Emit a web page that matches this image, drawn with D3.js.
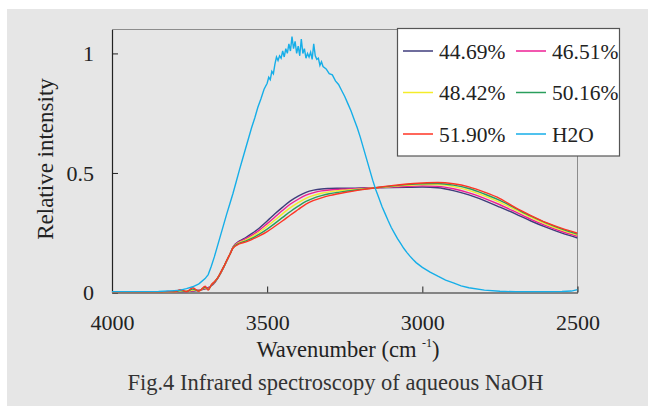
<!DOCTYPE html>
<html>
<head>
<meta charset="utf-8">
<script src="https://cdn.jsdelivr.net/npm/d3@7"></script>
<style>
  body { margin: 0; background: #fff; }
  svg { display: block; }
</style>
</head>
<body>
<script>
// wavenumber grid shared by the NaOH spectra (cm-1)
const wnNaOH = [4000, 3850, 3820, 3800, 3780, 3760, 3740, 3720, 3700, 3690, 3680, 3670, 3660, 3650, 3640, 3630, 3620, 3610,
  3590, 3570, 3550, 3525, 3500, 3475, 3450, 3425, 3400, 3375, 3350, 3325, 3300, 3275, 3250, 3200, 3150, 3100, 3050, 3000,
  2950, 2900, 2850, 2800, 2750, 2700, 2650, 2600, 2550, 2500];

const naoh4469 = [0, 0, 0.001, 0.002, 0.003, 0.004, 0.006, 0.009, 0.015, 0.02, 0.028, 0.04, 0.058, 0.08, 0.105, 0.132, 0.16, 0.19,
  0.215, 0.229, 0.246, 0.27, 0.299, 0.329, 0.357, 0.383, 0.403, 0.419, 0.428, 0.433, 0.435, 0.436, 0.436, 0.437, 0.438, 0.439, 0.44, 0.441,
  0.438, 0.426, 0.408, 0.384, 0.357, 0.329, 0.299, 0.272, 0.248, 0.228];
const naoh4651 = [0, 0, 0.001, 0.002, 0.004, 0.004, 0.007, 0.01, 0.017, 0.018, 0.03, 0.042, 0.06, 0.082, 0.107, 0.134, 0.162, 0.19,
  0.212, 0.224, 0.239, 0.261, 0.288, 0.316, 0.344, 0.37, 0.39, 0.407, 0.418, 0.425, 0.429, 0.431, 0.432, 0.435, 0.438, 0.441, 0.444, 0.446,
  0.444, 0.434, 0.417, 0.394, 0.367, 0.337, 0.306, 0.279, 0.255, 0.235];
const naoh4842 = [0, 0, 0.002, 0.001, 0.006, 0.005, 0.01, 0.008, 0.02, 0.014, 0.03, 0.043, 0.06, 0.082, 0.107, 0.134, 0.161, 0.188,
  0.209, 0.219, 0.233, 0.253, 0.277, 0.303, 0.33, 0.355, 0.376, 0.394, 0.406, 0.415, 0.421, 0.425, 0.428, 0.433, 0.438, 0.443, 0.448, 0.451,
  0.451, 0.443, 0.427, 0.404, 0.377, 0.346, 0.314, 0.285, 0.261, 0.24];
const naoh5016 = [0, 0, 0.003, 0.002, 0.008, 0.004, 0.014, 0.007, 0.022, 0.012, 0.031, 0.044, 0.06, 0.083, 0.108, 0.135, 0.16, 0.187,
  0.206, 0.215, 0.226, 0.244, 0.265, 0.289, 0.314, 0.339, 0.361, 0.381, 0.395, 0.405, 0.413, 0.418, 0.423, 0.431, 0.438, 0.445, 0.451, 0.455,
  0.456, 0.449, 0.435, 0.412, 0.385, 0.352, 0.319, 0.29, 0.265, 0.244];
const naoh5190 = [0, 0, 0.004, 0.001, 0.012, 0.003, 0.02, 0.005, 0.026, 0.01, 0.032, 0.045, 0.06, 0.083, 0.108, 0.135, 0.16, 0.186,
  0.203, 0.211, 0.221, 0.237, 0.255, 0.277, 0.3, 0.324, 0.347, 0.37, 0.385, 0.396, 0.405, 0.412, 0.418, 0.429, 0.438, 0.447, 0.454, 0.458,
  0.46, 0.455, 0.442, 0.42, 0.393, 0.355, 0.322, 0.292, 0.268, 0.248];

// pure water spectrum, own grid (noisy around the peak)
const wnWater = [4000, 3850, 3800, 3780, 3760, 3740, 3720, 3700, 3690, 3680, 3670, 3660, 3650, 3640, 3630, 3620, 3610, 3600,
  3590, 3580, 3570, 3560, 3550, 3540, 3530, 3520, 3510, 3500, 3495, 3490, 3485, 3480, 3475, 3470, 3465, 3460, 3455, 3450,
  3445, 3440, 3435, 3430, 3425, 3420, 3415, 3410, 3405, 3400, 3395, 3390, 3385, 3380, 3375, 3370, 3365, 3360, 3355, 3350,
  3345, 3340, 3335, 3330, 3325, 3320, 3310, 3300, 3290, 3280, 3270, 3260, 3250, 3240, 3230, 3220, 3210, 3200, 3190, 3180,
  3170, 3160, 3150, 3140, 3130, 3120, 3110, 3100, 3090, 3080, 3070, 3060, 3050, 3040, 3030, 3020, 3000, 2975, 2950, 2925,
  2900, 2875, 2850, 2800, 2750, 2700, 2650, 2600, 2550, 2520, 2500];
const water = [0.003, 0.004, 0.008, 0.01, 0.016, 0.024, 0.036, 0.058, 0.075, 0.11, 0.15, 0.195, 0.24, 0.285, 0.33, 0.372, 0.415, 0.462,
  0.51, 0.555, 0.6, 0.645, 0.69, 0.73, 0.775, 0.81, 0.85, 0.875, 0.9, 0.89, 0.925, 0.915, 0.955, 0.985, 0.97, 0.99, 0.98, 1.01,
  0.985, 1.02, 1.0, 1.04, 1.01, 1.07, 1.02, 1.05, 1.0, 1.03, 0.99, 1.06, 1.0, 1.02, 0.98, 1.0, 0.985, 1.005, 0.975, 1.04,
  0.99, 0.975, 0.98, 0.95, 0.965, 0.945, 0.935, 0.915, 0.91, 0.885, 0.87, 0.845, 0.82, 0.79, 0.76, 0.725, 0.69, 0.65, 0.605, 0.56,
  0.515, 0.47, 0.43, 0.395, 0.36, 0.33, 0.3, 0.272, 0.248, 0.225, 0.205, 0.185, 0.168, 0.152, 0.138, 0.125, 0.105, 0.085, 0.068, 0.052,
  0.04, 0.028, 0.02, 0.01, 0.005, 0.003, 0.003, 0.003, 0.004, 0.006, 0.012];

const seriesNames = ["44.69%", "46.51%", "48.42%", "50.16%", "51.90%", "H2O"];
const seriesColors = ["#3f3d7c", "#ee1f95", "#f4ec2a", "#2a9e5c", "#ff3424", "#16aee8"];
const xTicks = [4000, 3500, 3000, 2500];
const yTicks = [0, 0.5, 1];
const yTickLabels = ["0", "0.5", "1"];

const serif = '"Liberation Serif", "Times New Roman", serif';
const width = 648;
const height = 406;
const plot = { left: 112, right: 577.5, top: 29.5, bottom: 292.5 };

const svg = d3.select("body").append("svg")
  .attr("width", width).attr("height", height)
  .attr("font-family", serif);

// grey panel behind everything (white strip on top and left)
svg.append("rect").attr("x", 7).attr("y", 9).attr("width", width - 7).attr("height", height - 9).attr("fill", "#e6e6e6");

const x = d3.scaleLinear().domain([4000, 2500]).range([plot.left, plot.right]);
const y = d3.scaleLinear().domain([0, 1.1]).range([plot.bottom, plot.top]);

svg.append("clipPath").attr("id", "clip")
  .append("rect").attr("x", plot.left).attr("y", plot.top - 2)
  .attr("width", plot.right - plot.left).attr("height", plot.bottom - plot.top + 2);

// frame: light top / right edges
svg.append("path")
  .attr("d", `M${plot.left},${plot.top}H${plot.right}V${plot.bottom}`)
  .attr("fill", "none").attr("stroke", "#8c8c8c").attr("stroke-width", 1);

// axes with inward ticks
const xAxis = svg.append("g").attr("transform", `translate(0,${plot.bottom})`)
  .call(d3.axisBottom(x).tickValues(xTicks).tickSize(-6).tickSizeOuter(0).tickPadding(0).tickFormat(d3.format("d")));
const yAxis = svg.append("g").attr("transform", `translate(${plot.left},0)`)
  .call(d3.axisLeft(y).tickValues(yTicks).tickSize(-6).tickSizeOuter(0).tickFormat((d, i) => yTickLabels[i]));

[xAxis, yAxis].forEach((g) => {
  g.attr("font-family", serif).attr("font-size", 22);
  g.select(".domain").attr("stroke", "#222").attr("stroke-width", 1.2);
  g.selectAll(".tick line").attr("stroke", "#222");
  g.selectAll("text").attr("fill", "#222");
});
xAxis.selectAll("text").attr("dy", null).attr("y", 37.5);
yAxis.selectAll("text").attr("x", -18).attr("dy", "0.34em");

// spectra
const naohSeries = [naoh4469, naoh4651, naoh4842, naoh5016, naoh5190];
const lines = svg.append("g").attr("clip-path", "url(#clip)");

naohSeries.forEach((vals, i) => {
  const pts = wnNaOH.map((w, j) => [w, vals[j]]);
  lines.append("path")
    .datum(pts)
    .attr("fill", "none")
    .attr("stroke", seriesColors[i])
    .attr("stroke-width", 1.4)
    .attr("d", d3.line().x((d) => x(d[0])).y((d) => y(d[1])).curve(d3.curveMonotoneX));
});

lines.append("path")
  .datum(wnWater.map((w, j) => [w, water[j]]))
  .attr("fill", "none")
  .attr("stroke", seriesColors[5])
  .attr("stroke-width", 1.4)
  .attr("d", d3.line().x((d) => x(d[0])).y((d) => y(d[1])));

// axis titles
svg.append("text")
  .attr("transform", "translate(53,159) rotate(-90)")
  .attr("text-anchor", "middle")
  .attr("font-size", 23).attr("fill", "#222")
  .text("Relative intensity");

const xTitle = svg.append("text")
  .attr("x", 348).attr("y", 357)
  .attr("text-anchor", "middle")
  .attr("font-size", 22.5).attr("fill", "#222");
xTitle.append("tspan").text("Wavenumber (cm ");
xTitle.append("tspan").attr("font-size", 12).attr("dy", -10).text("-1");
xTitle.append("tspan").attr("dy", 10).text(")");

// caption
svg.append("text")
  .attr("x", 335.5).attr("y", 390)
  .attr("text-anchor", "middle")
  .attr("font-size", 22.5).attr("fill", "#333")
  .text("Fig.4 Infrared spectroscopy of aqueous NaOH");

// legend box, 2 columns x 3 rows
const legend = svg.append("g");
legend.append("rect")
  .attr("x", 397.5).attr("y", 28.5).attr("width", 222).attr("height", 127.5)
  .attr("fill", "#fff").attr("stroke", "#555").attr("stroke-width", 1.2);

const rowY = [51, 92.5, 134];
const colX = [403, 516];
seriesNames.forEach((name, i) => {
  const cx = colX[i % 2];
  const cy = rowY[Math.floor(i / 2)];
  legend.append("line")
    .attr("x1", cx).attr("x2", cx + 30).attr("y1", cy).attr("y2", cy)
    .attr("stroke", seriesColors[i]).attr("stroke-width", 1.5);
  legend.append("text")
    .attr("x", cx + 36).attr("y", cy).attr("dy", "0.35em")
    .attr("font-size", 21.5).attr("fill", "#222")
    .text(name);
});
</script>
</body>
</html>
